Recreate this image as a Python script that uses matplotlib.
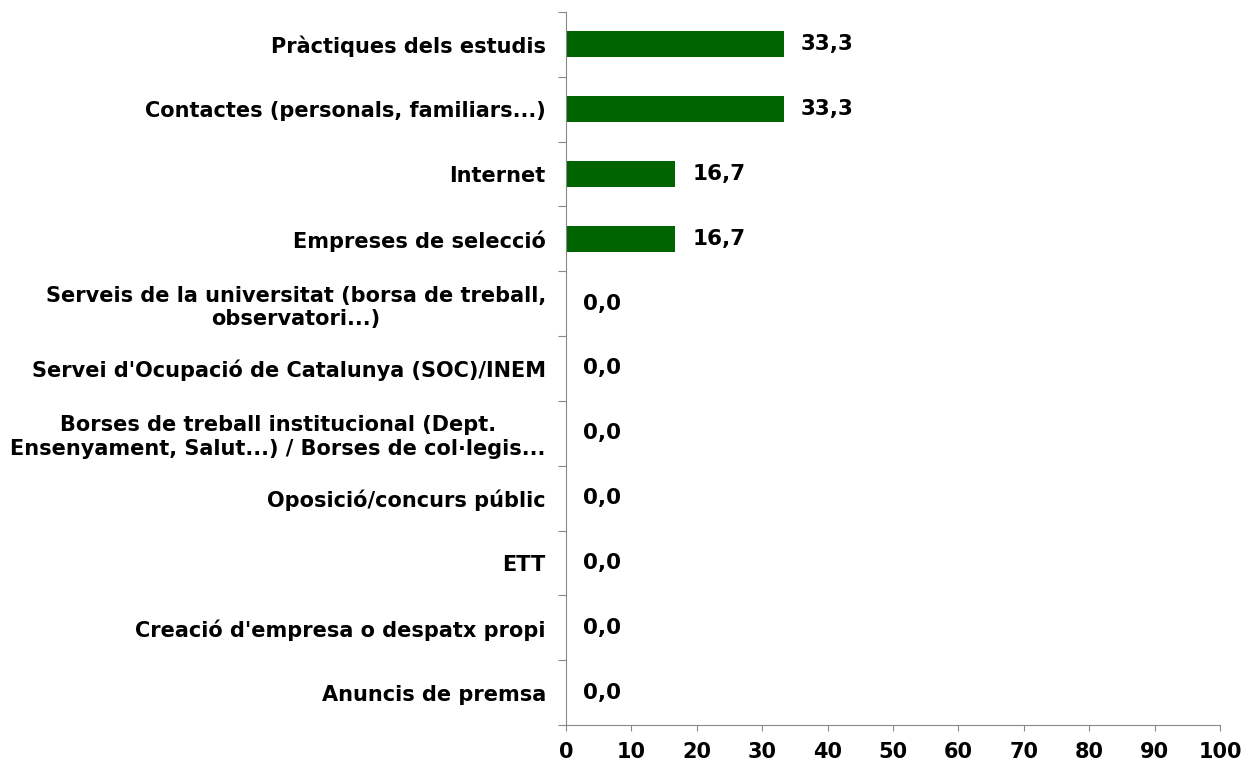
import matplotlib.pyplot as plt

categories = [
    "Pràctiques dels estudis",
    "Contactes (personals, familiars...)",
    "Internet",
    "Empreses de selecció",
    "Serveis de la universitat (borsa de treball,\nobservatori...)",
    "Servei d'Ocupació de Catalunya (SOC)/INEM",
    "Borses de treball institucional (Dept.\nEnsenyament, Salut...) / Borses de col·legis...",
    "Oposició/concurs públic",
    "ETT",
    "Creació d'empresa o despatx propi",
    "Anuncis de premsa",
]
values = [33.3, 33.3, 16.7, 16.7, 0.0, 0.0, 0.0, 0.0, 0.0, 0.0, 0.0]
xticks = [0, 10, 20, 30, 40, 50, 60, 70, 80, 90, 100]

plt.rcParams['font.family'] = ['DejaVu Sans']
plt.rcParams['font.weight'] = 'bold'

fig = plt.figure(figsize=(12.45, 7.63), dpi=100)
ax = fig.add_axes([0.4546, 0.0498, 0.5253, 0.9345])

pos = list(range(len(categories)))
ax.barh(pos, values, height=0.4, color='#006400')
ax.set_ylim(len(categories) - 0.5, -0.5)
ax.set_xlim(0, 100)

for p, v in zip(pos, values):
    ax.annotate(f"{v:.1f}".replace('.', ','), (v, p), xytext=(17, 0),
                textcoords='offset pixels',
                va='center', ha='left', fontsize=15.5, fontweight='bold')

# ticks at the category boundaries, labels in the middle
ax.set_yticks([p + 0.5 for p in range(-1, len(categories))])
ax.set_yticklabels([])
ax.set_yticks(pos, minor=True)
ax.set_yticklabels(categories, minor=True, fontsize=15, fontweight='bold')
ax.tick_params(axis='y', which='minor', length=0, pad=14.5)
ax.tick_params(axis='y', which='major', length=6, color='#888888')
for lab in ax.get_yticklabels(minor=True):
    lab.set_multialignment('center')

ax.set_xticks(xticks)
ax.set_xticklabels([str(t) for t in xticks], fontsize=15, fontweight='bold')
ax.tick_params(axis='x', length=4.5, color='#888888', pad=8)

for s in ['top', 'right']:
    ax.spines[s].set_visible(False)
for s in ['left', 'bottom']:
    ax.spines[s].set_color('#888888')

fig.savefig('out.png', dpi=100)
